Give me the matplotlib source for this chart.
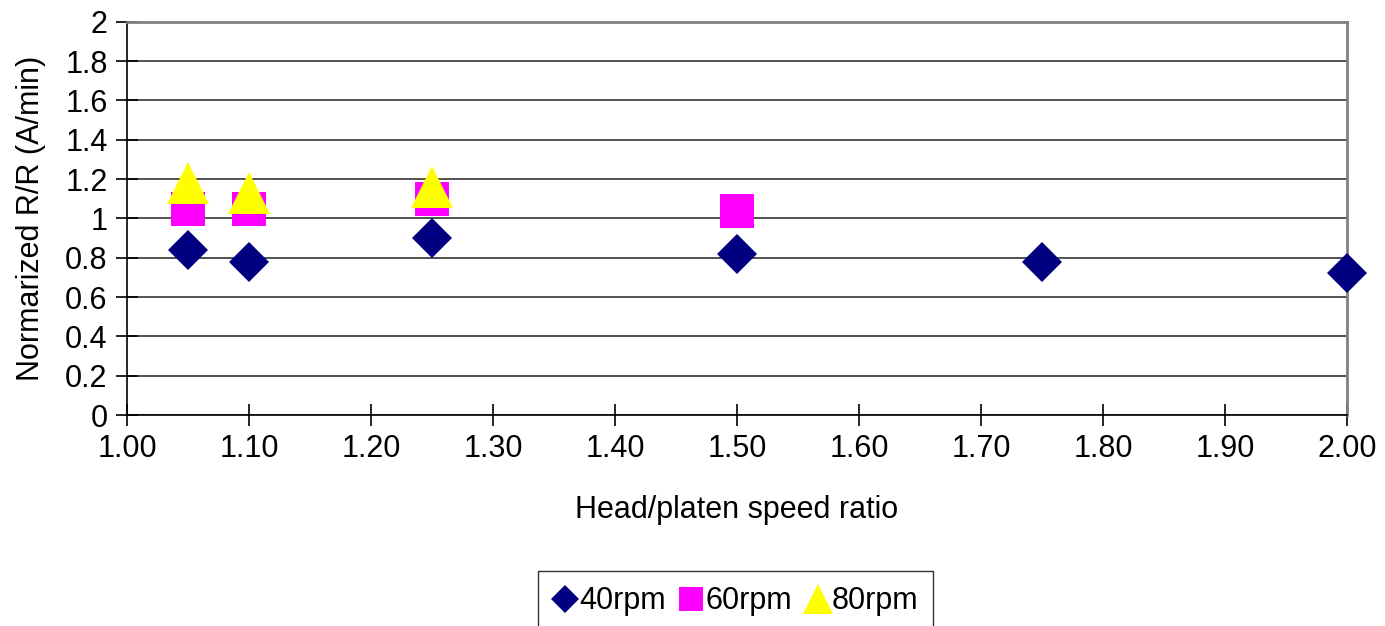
import matplotlib
matplotlib.use("Agg")
import matplotlib.pyplot as plt
from matplotlib.ticker import FormatStrFormatter, FuncFormatter

plt.rcParams['font.family'] = ['Liberation Sans', 'DejaVu Sans']

# data
x40 = [1.05, 1.10, 1.25, 1.50, 1.75, 2.00]
y40 = [0.84, 0.78, 0.90, 0.82, 0.78, 0.72]

x60 = [1.05, 1.10, 1.25, 1.50]
y60 = [1.05, 1.05, 1.10, 1.04]

x80 = [1.05, 1.10, 1.25]
y80 = [1.18, 1.13, 1.16]

fig = plt.figure(figsize=(13.85, 6.26), dpi=100)
ax = fig.add_axes([0.0917, 0.337, 0.9726 - 0.0917, 0.9653 - 0.337])

ax.plot(x40, y40, ls='none', marker='D', ms=20, color='#000080', mew=0, label='40rpm', clip_on=False, zorder=3)
ax.plot(x60, y60, ls='none', marker='s', ms=24, color='#FF00FF', mew=0, label='60rpm', clip_on=False, zorder=4)
ax.plot(x80, y80, ls='none', marker='^', ms=30, color='#FFFF00', mew=0, label='80rpm', clip_on=False, zorder=5)

ax.set_xlim(1.0, 2.0)
ax.set_ylim(0, 2)
ax.set_xticks([1.0 + 0.1 * i for i in range(11)])
ax.set_yticks([0.2 * i for i in range(11)])
ax.xaxis.set_major_formatter(FormatStrFormatter('%.2f'))
ax.yaxis.set_major_formatter(FuncFormatter(lambda v, p: ('%.1f' % v).rstrip('0').rstrip('.')))

ax.yaxis.grid(True, color='#333333', lw=1.2)
ax.set_axisbelow(True)

for s in ['top', 'right']:
    ax.spines[s].set_color('#808080')
    ax.spines[s].set_linewidth(2)
for s in ['left', 'bottom']:
    ax.spines[s].set_color('#000000')
    ax.spines[s].set_linewidth(1.2)

ax.tick_params(axis='both', direction='inout', length=16, width=1.2, labelsize=22, colors='#000000')
ax.tick_params(axis='x', pad=6)
ax.tick_params(axis='y', pad=6)

ax.set_xlabel('Head/platen speed ratio', fontsize=22, labelpad=22)
ax.set_ylabel('Normarized R/R (A/min)', fontsize=22, labelpad=14)

leg = fig.legend(loc='upper center', bbox_to_anchor=(0.531, 1 - 571 / 626), ncol=3,
                 fontsize=22, frameon=True, fancybox=False, edgecolor='#000000',
                 handlelength=0.8, handletextpad=0.05, columnspacing=0.45, borderpad=0.5,
                 borderaxespad=0, markerscale=0.72)
leg.get_frame().set_linewidth(1.0)

fig.savefig('out.png', dpi=100)
